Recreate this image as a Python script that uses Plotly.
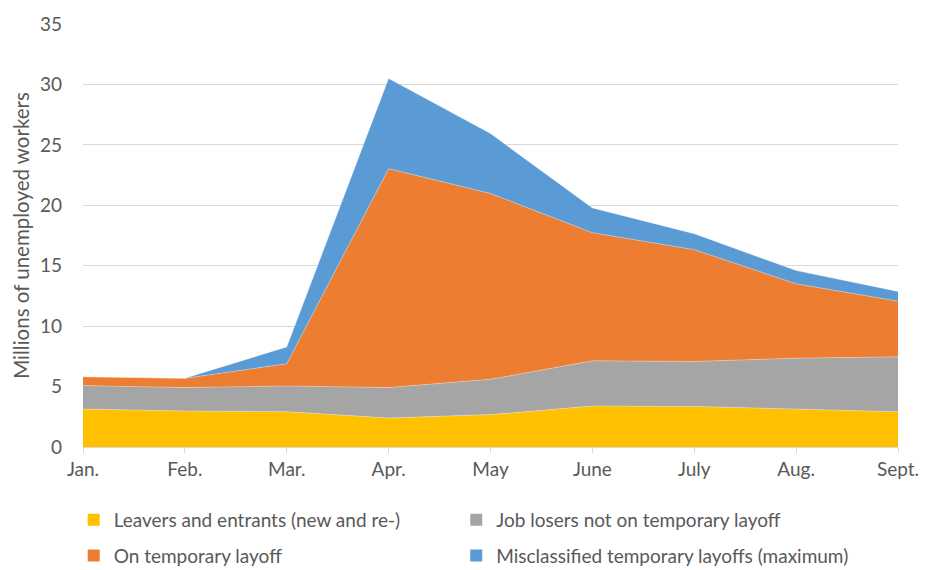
import plotly.graph_objects as go

# Monthly categories (2020)
months = ["Jan.", "Feb.", "Mar.", "Apr.", "May", "June", "July", "Aug.", "Sept."]

# Millions of unemployed workers by category
leavers_entrants = [3.14, 2.98, 2.92, 2.40, 2.68, 3.39, 3.36, 3.17, 2.92]
job_losers_not_temp = [1.94, 1.94, 2.13, 2.52, 2.92, 3.74, 3.72, 4.18, 4.54]
temporary_layoff = [0.74, 0.76, 1.84, 18.11, 15.38, 10.60, 9.25, 6.15, 4.61]
misclassified_max = [0.00, 0.00, 1.39, 7.47, 4.95, 2.05, 1.31, 1.10, 0.80]

series_names = [
    "Leavers and entrants (new and re-)",
    "Job losers not on temporary layoff",
    "On temporary layoff",
    "Misclassified temporary layoffs (maximum)",
]
series_values = [leavers_entrants, job_losers_not_temp, temporary_layoff, misclassified_max]
colors = ["#FFC000", "#A5A5A5", "#ED7D31", "#5B9BD5"]

# one legend box per entry, laid out as a 2x2 grid below the plot
legend_ids = ["legend", "legend2", "legend3", "legend4"]
legend_x = [0.079, 0.489, 0.079, 0.489]
legend_y = [0.088, 0.088, 0.025, 0.025]

FONT = "Lato, Calibri, sans-serif"
TEXT_COLOR = "#595959"
FS = 19

fig = go.Figure()

# Stacked areas
for name, vals, col in zip(series_names, series_values, colors):
    fig.add_trace(go.Scatter(
        x=months, y=vals, name=name, mode="lines",
        stackgroup="one", line=dict(width=0.6, color="rgba(255,255,255,0.5)"),
        fillcolor=col, showlegend=False, hoverinfo="x+y+name",
    ))

# Legend entries as square swatches
for name, col, lg in zip(series_names, colors, legend_ids):
    fig.add_trace(go.Scatter(
        x=[None], y=[None], name=name, mode="markers",
        marker=dict(symbol="square", size=12, color=col),
        showlegend=True, legend=lg,
    ))

legend_layout = {}
for lg, lx, ly in zip(legend_ids, legend_x, legend_y):
    legend_layout[lg] = dict(
        x=lx, y=ly, xref="container", yref="container",
        xanchor="left", yanchor="middle", orientation="h",
        font=dict(size=FS, color=TEXT_COLOR),
        itemsizing="constant", bgcolor="rgba(0,0,0,0)",
    )

fig.update_layout(
    width=933, height=570,
    margin=dict(l=83, r=35, t=20, b=123),
    paper_bgcolor="white", plot_bgcolor="white",
    font=dict(family=FONT, size=FS, color=TEXT_COLOR),
    xaxis=dict(
        type="category", range=[0, len(months) - 1],
        showgrid=False, showline=True, linecolor="#D9D9D9", linewidth=1,
        ticks="outside", ticklen=5, tickcolor="#D9D9D9",
        tickfont=dict(size=FS, color=TEXT_COLOR),
    ),
    yaxis=dict(
        range=[0, 35], dtick=5, showgrid=True, gridcolor="#D9D9D9",
        zeroline=False, showline=False, ticks="", ticklabelstandoff=20,
        tickfont=dict(size=FS, color=TEXT_COLOR),
        title=dict(text="Millions of unemployed workers",
                   font=dict(size=20.5, color=TEXT_COLOR), standoff=4),
    ),
    **legend_layout,
)

fig.write_html("out.html")
